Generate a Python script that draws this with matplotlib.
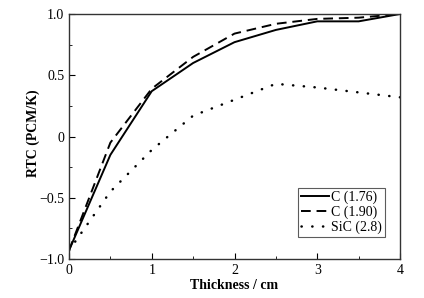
import matplotlib
matplotlib.use('Agg')
import matplotlib.pyplot as plt
from matplotlib.ticker import MultipleLocator, FixedLocator

plt.rcParams['font.family'] = ['Liberation Serif', 'DejaVu Serif']

# Datos
espesor = [0, 0.5, 1, 1.5, 2, 2.5, 3, 3.5, 4]
c_176 = [-0.93, -0.15, 0.37, 0.60, 0.77, 0.87, 0.94, 0.94, 1.0]
c_190 = [-0.93, -0.05, 0.39, 0.65, 0.84, 0.92, 0.96, 0.97, 1.0]
sic_28 = [-0.93, -0.45, -0.11, 0.17, 0.30, 0.43, 0.40, 0.36, 0.32]
etiquetas = ['C (1.76)', 'C (1.90)', 'SiC (2.8)']

fig = plt.figure(figsize=(4.24, 2.98), dpi=100)
ax = fig.add_axes([69/424, 1 - 259/298, (400-69)/424, (259-14)/298])

ax.plot(espesor, c_176, color='black', linestyle='-', lw=1.4, label=etiquetas[0])
ax.plot(espesor, c_190, color='black', linestyle=(0, (5, 3)), lw=1.4, label=etiquetas[1])
ax.plot(espesor, sic_28, color='black', linestyle=(0, (0.1, 4.2)), lw=1.8,
        dash_capstyle='round', label=etiquetas[2])

ax.set_xlim(0, 4)
ax.set_ylim(-1.0, 1.0)
ax.xaxis.set_major_locator(MultipleLocator(1))
ax.xaxis.set_minor_locator(MultipleLocator(0.5))
ax.yaxis.set_major_locator(FixedLocator([-1.0, -0.5, 0, 0.5, 1.0]))
ax.yaxis.set_minor_locator(MultipleLocator(0.25))
ax.set_yticklabels(['\u22121.0', '\u22120.5', '0', '0.5', '1.0'])
ax.tick_params(which='both', direction='in', top=False, right=False, labelsize=10)
ax.tick_params(which='major', length=4)
ax.tick_params(which='minor', length=2)
for s in ax.spines.values():
    s.set_color('#333333')
    s.set_linewidth(1.0)

ax.set_xlabel('Thickness / cm', fontweight='bold', fontsize=10)
ax.set_ylabel('RTC (PCM/K)', fontweight='bold', fontsize=10)
ax.xaxis.set_label_coords(0.5, -0.08)
ax.yaxis.set_label_coords(-0.089, 0.515)

leg = ax.legend(loc='lower right', bbox_to_anchor=(0.955, 0.09), fontsize=10,
                frameon=True, fancybox=False, handlelength=2.0,
                borderpad=0.2, labelspacing=0.1, handletextpad=0.2,
                borderaxespad=0)
leg.get_frame().set_edgecolor('#333333')
leg.get_frame().set_linewidth(0.8)

plt.savefig('out.png', dpi=100)
